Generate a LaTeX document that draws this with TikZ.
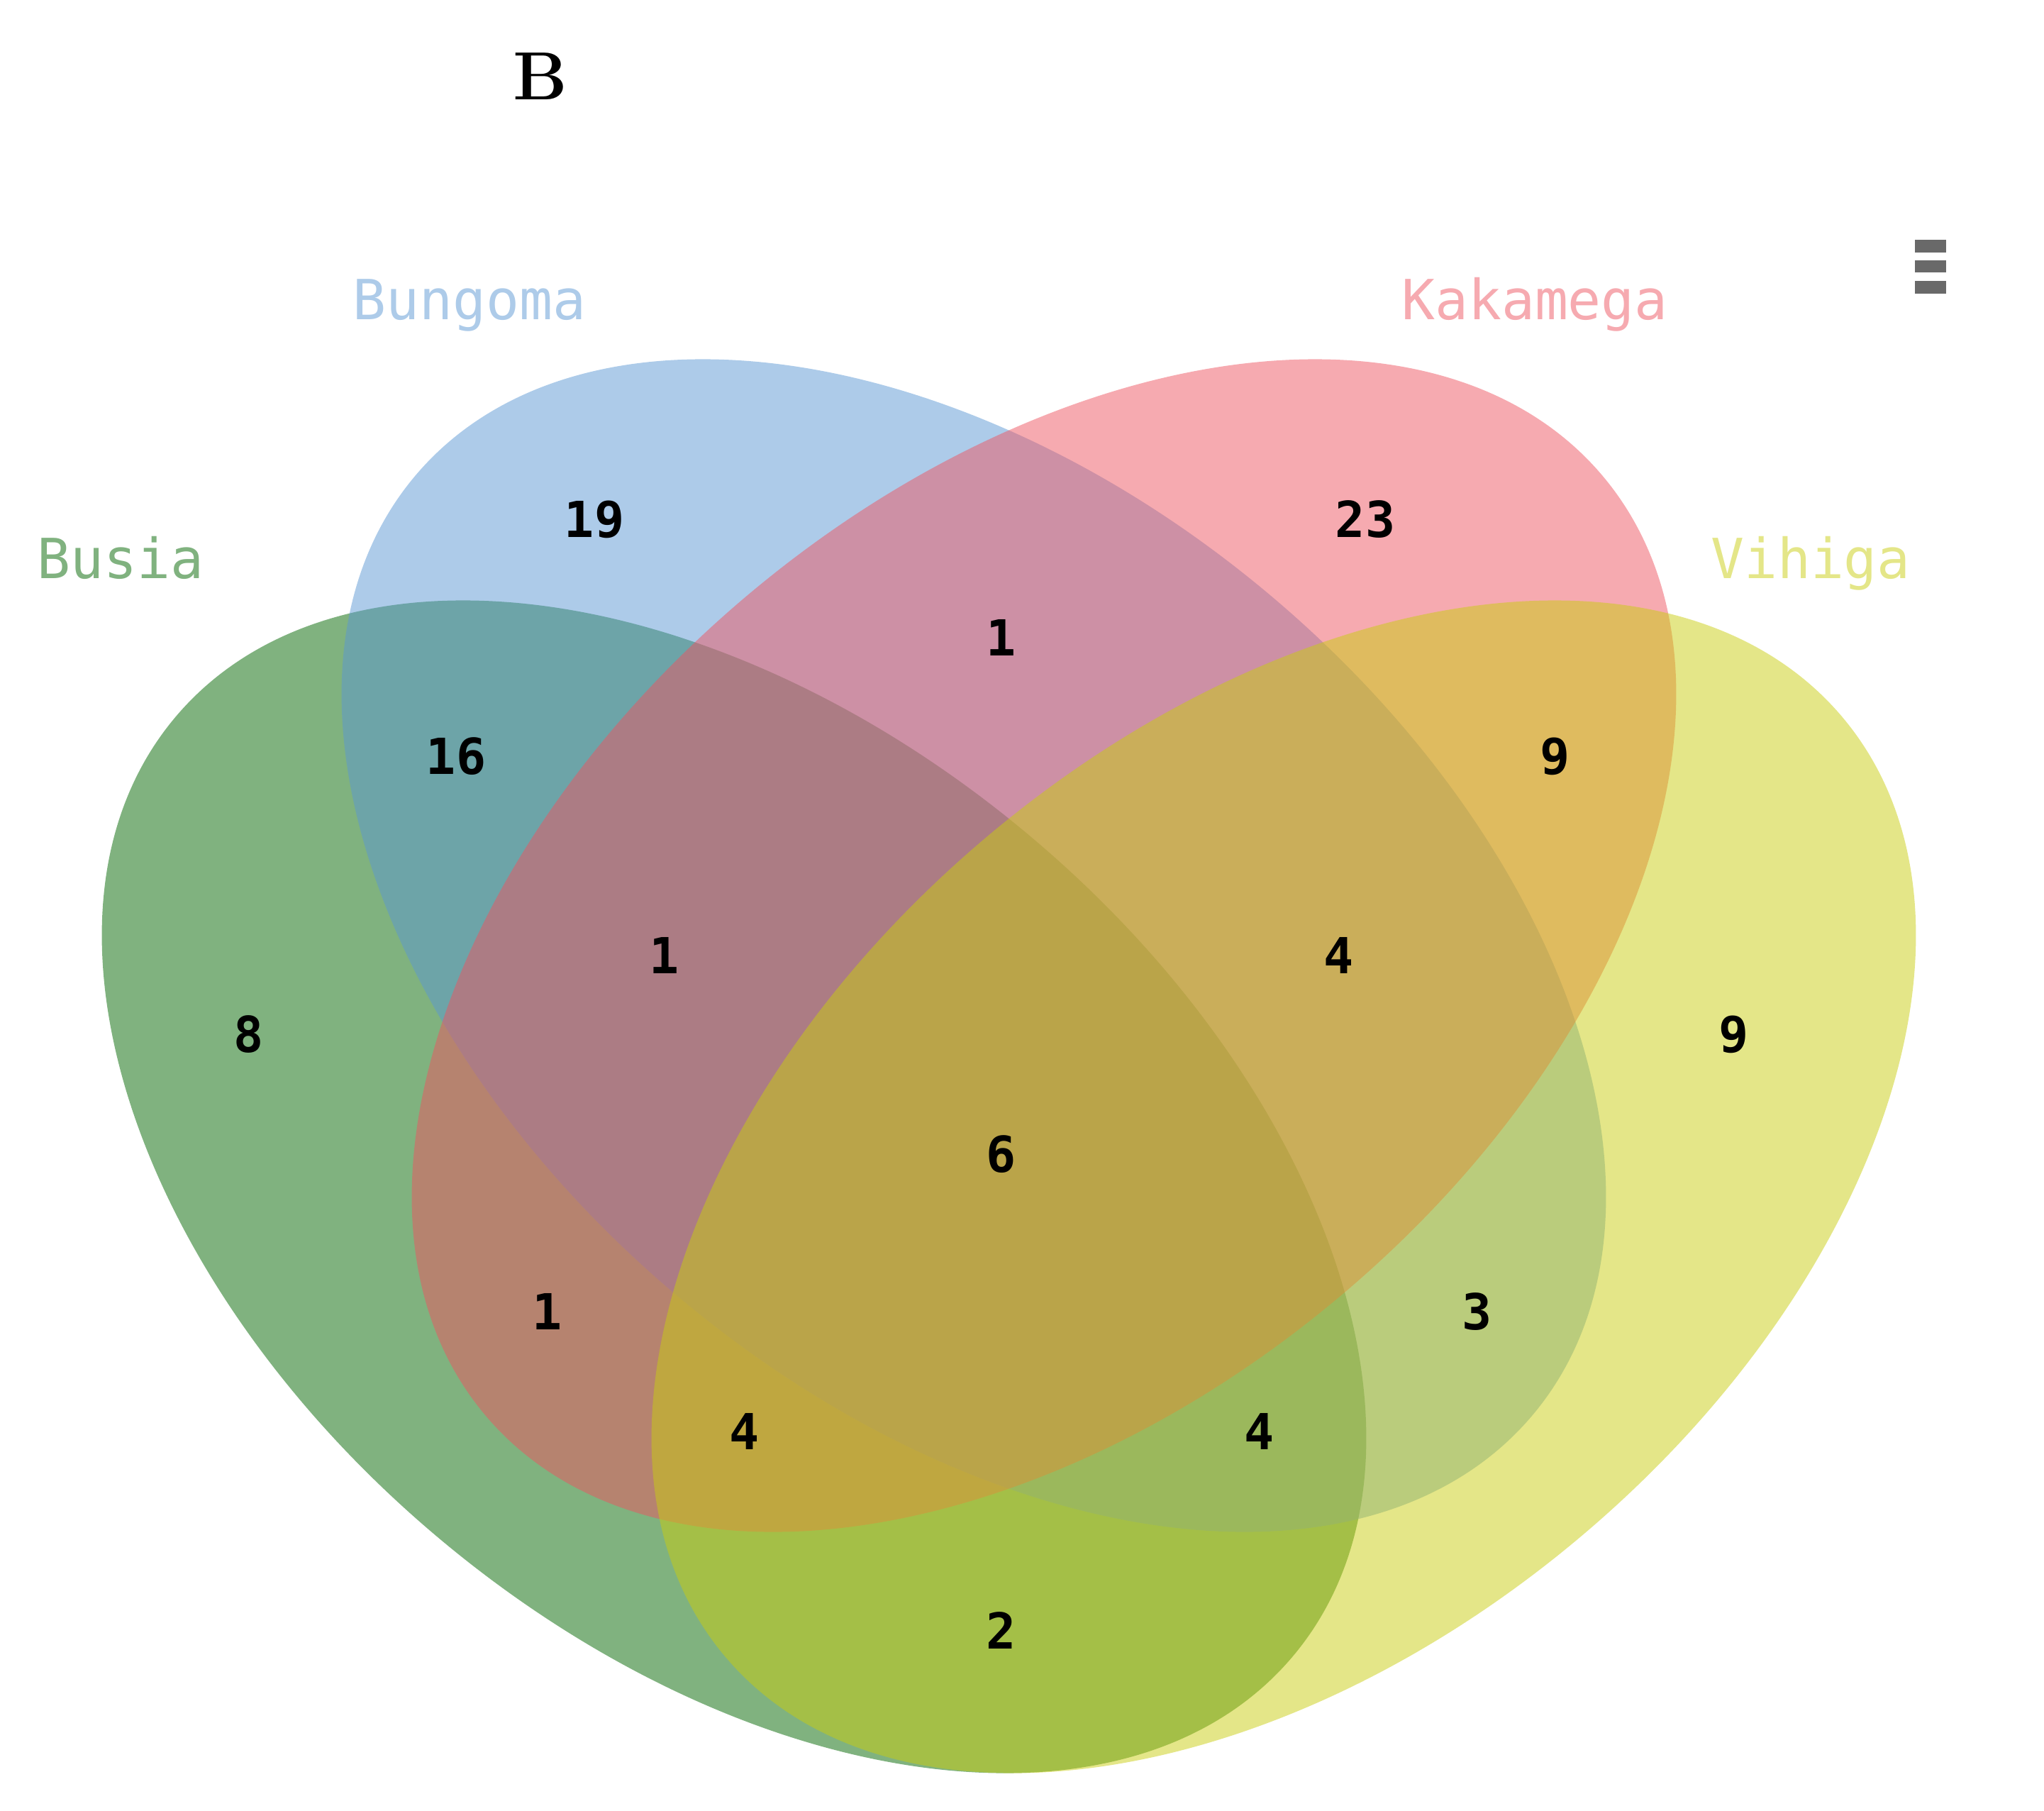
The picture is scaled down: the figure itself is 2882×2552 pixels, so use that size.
\documentclass[tikz,border=0pt]{standalone}
\usepackage{fontspec}
\newfontfamily\monofont{DejaVu Sans Mono}
\definecolor{cblue}{RGB}{91,151,211}
\definecolor{cpink}{RGB}{237,85,97}
\definecolor{cgreen}{RGB}{1,101,0}
\definecolor{cyellow}{RGB}{201,205,17}
\definecolor{menugray}{RGB}{105,105,105}
\tikzset{
  setfill/.style={fill=#1, fill opacity=0.5, draw=none},
  setlabel/.style={text=#1, text opacity=0.5, font=\monofont\fontsize{78}{80}\selectfont, anchor=base, inner sep=0pt},
  count/.style={font=\monofont\bfseries\fontsize{70}{72}\selectfont, text=black, inner sep=0pt},
  menubar/.style={fill=menugray, draw=none}
}
\begin{document}
\begin{tikzpicture}[x=1pt,y=-1pt]
\useasboundingbox (0,0) rectangle (2882,2552);
% centres
\coordinate (cg) at (1035,1673);
\coordinate (cb) at (1373,1333);
\coordinate (cp) at (1472,1333);
\coordinate (cy) at (1810,1673);
% ellipses (order: green, blue, pink, yellow)
\fill[setfill=cgreen, rotate around={-40:(cg)}] (cg) ellipse [x radius=1029, y radius=647];
\fill[setfill=cblue, rotate around={-40:(cb)}] (cb) ellipse [x radius=1029, y radius=647];
\fill[setfill=cpink, rotate around={40:(cp)}] (cp) ellipse [x radius=1029, y radius=647];
\fill[setfill=cyellow, rotate around={40:(cy)}] (cy) ellipse [x radius=1029, y radius=647];
% title
\node[font=\bfseries\fontsize{96}{98}\selectfont, inner sep=0pt] (title) at (762,108) {B};
% menu icon
\fill[menubar] (2700,338) rectangle (2744,356);
\fill[menubar] (2700,367) rectangle (2744,384);
\fill[menubar] (2700,396) rectangle (2744,414);
% set labels
\node[setlabel=cblue] (lbung) at (662,450) {Bungoma};
\node[setlabel=cpink] (lkak) at (2164,450) {Kakamega};
\node[setlabel=cgreen] (lbus) at (170,815) {Busia};
\node[setlabel=cyellow] (lvih) at (2553,815) {Vihiga};
% counts
\node[count] (n19) at (838,732) {19};
\node[count] (n23) at (1925,732) {23};
\node[count] (n1t) at (1412,899) {1};
\node[count] (n16) at (643,1066) {16};
\node[count] (n9l) at (2193,1066) {9};
\node[count] (n8) at (351,1458) {8};
\node[count] (n1m) at (937,1347) {1};
\node[count] (n4m) at (1888,1347) {4};
\node[count] (n9r) at (2445,1458) {9};
\node[count] (n6) at (1412,1627) {6};
\node[count] (n1l) at (772,1849) {1};
\node[count] (n3) at (2083,1849) {3};
\node[count] (n4l) at (1050,2018) {4};
\node[count] (n4r) at (1776,2018) {4};
\node[count] (n2) at (1412,2298) {2};
\end{tikzpicture}
\end{document}
